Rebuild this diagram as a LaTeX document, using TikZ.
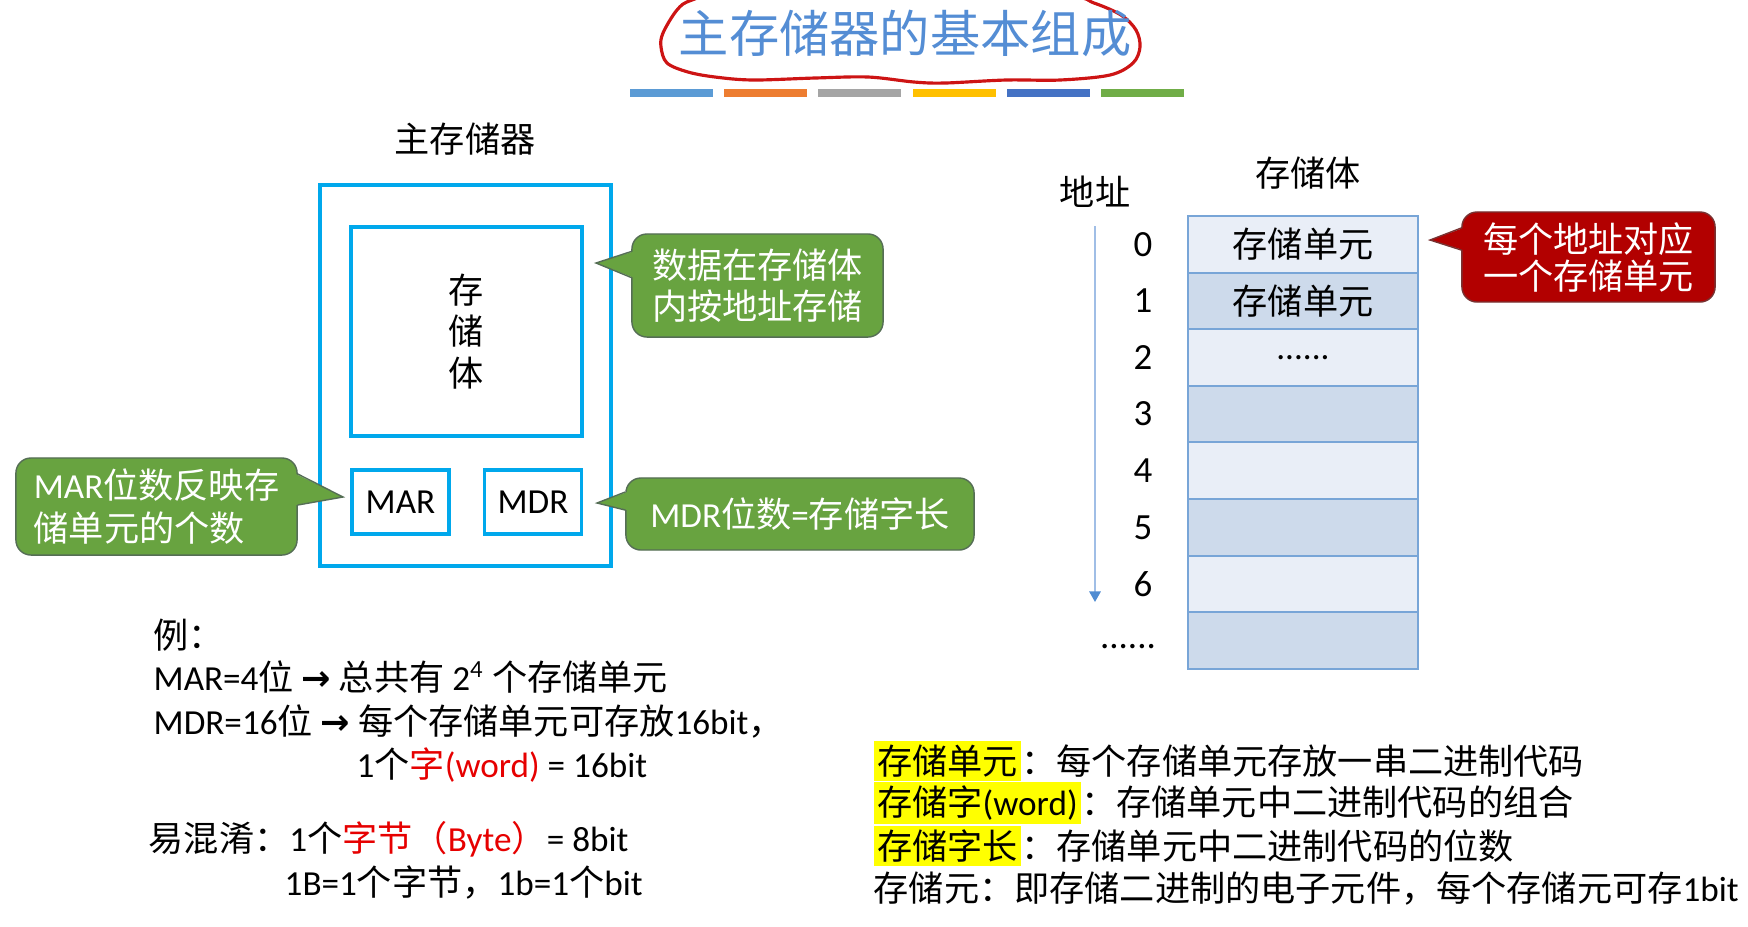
\documentclass[tikz,border=0pt]{standalone}
\usepackage{fontspec}
\setmainfont{Noto Sans CJK SC}
\newfontfamily\en{Carlito}
\newfontfamily\sym{DejaVu Sans}
\usetikzlibrary{arrows.meta,calc}

\definecolor{titleblue}{RGB}{84,141,212}
\definecolor{loopred}{RGB}{205,20,20}
\definecolor{boxblue}{RGB}{0,168,236}
\definecolor{calgreen}{RGB}{104,163,64}
\definecolor{noteline}{RGB}{85,110,85}
\definecolor{calred}{RGB}{178,0,0}
\definecolor{rednoteline}{RGB}{120,50,50}
\definecolor{celllight}{RGB}{233,238,247}
\definecolor{celldark}{RGB}{205,218,235}
\definecolor{cellline}{RGB}{120,165,215}
\definecolor{addrline}{RGB}{160,190,230}
\definecolor{addrtip}{RGB}{80,140,210}
\definecolor{hlyellow}{RGB}{255,255,0}
\definecolor{wordred}{RGB}{230,0,0}
\definecolor{barblue}{RGB}{91,155,213}
\definecolor{barorange}{RGB}{237,125,49}
\definecolor{bargray}{RGB}{165,165,165}
\definecolor{baryellow}{RGB}{255,192,0}
\definecolor{bardarkblue}{RGB}{68,114,196}
\definecolor{bargreen}{RGB}{112,173,71}

\newcommand{\hl}[1]{{\setlength{\fboxsep}{1pt}\colorbox{hlyellow}{#1}}}

\begin{document}
\begin{tikzpicture}[x=0.01cm, y=-0.01cm,
    font=\fontsize{10}{12}\selectfont,
    membox/.style={draw=boxblue, line width=1.1pt, inner sep=0pt},
    regbox/.style={membox, minimum width=0.97cm, minimum height=0.64cm, font=\en\fontsize{10}{12}\selectfont},
    note/.style={draw=noteline, line width=0.4pt, rounded corners=0.15cm, text=white, align=center, inner sep=0pt, font=\fontsize{10}{11.5}\selectfont},
    greennote/.style={note, fill=calgreen},
    rednote/.style={note, fill=calred, draw=rednoteline},
    cell/.style={draw=cellline, line width=0.6pt, minimum width=2.3cm, minimum height=0.566cm, inner sep=0pt},
    txt/.style={anchor=west, inner sep=0pt}]
  \useasboundingbox (0,0) rectangle (1748,926);

  % title with the hand drawn loop and the colour bars
  \draw[loopred, line width=0.9pt] plot[smooth cycle, tension=0.55] coordinates {(692,0) (677,10) (663,33) (661,47) (667,63) (688,72) (715,77) (753,80) (815,78) (868,77) (914,82) (945,83) (1006,80) (1060,80) (1110,75) (1133,63) (1140,47) (1136,30) (1121,15) (1094,3) (1064,-5) (900,-22) (740,-12)};
  \node[text=titleblue, font=\fontsize{14.3}{16}\selectfont] (title) at (905,33) {主存储器的基本组成};
  \foreach \c [count=\i from 0] in {barblue,barorange,bargray,baryellow,bardarkblue,bargreen}
    \fill[\c] ({630+\i*94.2},89) rectangle +(83,8);

  % main memory
  \node (memlabel) at (465,139) {主存储器};
  \node[membox, minimum width=2.91cm, minimum height=3.81cm] (mainmem) at (465.5,375.5) {};
  \node[membox, minimum width=2.31cm, minimum height=2.09cm, align=center, font=\fontsize{10}{11.9}\selectfont] (bank) at (466.5,331.5) {存\\储\\体};
  \node[regbox] (mar) at (400.5,502) {MAR};
  \node[regbox] (mdr) at (533,502) {MDR};

  % green notes
  \node[greennote, minimum width=2.51cm, minimum height=1.03cm] (notedata) at (757.5,285.5) {数据在存储体\\内按地址存储};
  \coordinate (tipdata) at (596,263);
  \fill[calgreen] ($(notedata.west)+(2,-34)$) -- (tipdata) -- ($(notedata.west)+(2,-8)$) -- cycle;
  \draw[noteline, line width=0.4pt] ($(notedata.west)+(0,-34)$) -- (tipdata) -- ($(notedata.west)+(0,-8)$);

  \node[greennote, minimum width=3.48cm, minimum height=0.72cm] (notemdr) at (800,514) {{\en MDR}位数{\en =}存储字长};
  \coordinate (tipmdr) at (597,503);
  \fill[calgreen] ($(notemdr.west)+(2,-22)$) -- (tipmdr) -- ($(notemdr.west)+(2,-4)$) -- cycle;
  \draw[noteline, line width=0.4pt] ($(notemdr.west)+(0,-22)$) -- (tipmdr) -- ($(notemdr.west)+(0,-4)$);

  \node[greennote, minimum width=2.81cm, minimum height=0.97cm, align=left, font=\fontsize{10}{12}\selectfont] (notemar) at (156.5,506.5) {{\en MAR}位数反映存\\储单元的个数};
  \coordinate (tipmar) at (343,497);
  \fill[calgreen] ($(notemar.east)+(-2,-32.5)$) -- (tipmar) -- ($(notemar.east)+(-2,-1.5)$) -- cycle;
  \draw[noteline, line width=0.4pt] ($(notemar.east)+(0,-32.5)$) -- (tipmar) -- ($(notemar.east)+(0,-1.5)$);

  % memory bank with addresses
  \node (banklabel) at (1308,173) {存储体};
  \node (addrlabel) at (1095,192) {地址};
  \foreach \r/\c/\t in {0/celllight/存储单元, 1/celldark/存储单元, 2/celllight/{\en ......}, 3/celldark/{}, 4/celllight/{}, 5/celldark/{}, 6/celllight/{}, 7/celldark/{}}
    \node[cell, fill=\c] (cell\r) at (1303,{244.3+\r*56.6}) {\t};
  \foreach \r in {0,...,6}
    \node[font=\en\fontsize{10.5}{12}\selectfont] (num\r) at (1143,{244.3+\r*56.6}) {\r};
  \node[font=\en\fontsize{10.5}{12}\selectfont] (numdots) at (1128,647) {......};
  \coordinate (addrtop) at (1095,226);
  \coordinate (addrend) at (1095,602);
  \draw[addrline, line width=0.6pt, -{Triangle[length=3pt, width=3.2pt, color=addrtip]}] (addrtop) -- (addrend);

  % red note
  \node[rednote, minimum width=2.53cm, minimum height=0.90cm, font=\fontsize{10}{10.5}\selectfont] (noteaddr) at (1588.5,257) {每个地址对应\\一个存储单元};
  \coordinate (tipaddr) at (1430,240);
  \fill[calred] ($(noteaddr.west)+(2,-29)$) -- (tipaddr) -- ($(noteaddr.west)+(2,-7)$) -- cycle;
  \draw[rednoteline, line width=0.4pt] ($(noteaddr.west)+(0,-29)$) -- (tipaddr) -- ($(noteaddr.west)+(0,-7)$);

  % example
  \node[txt] (ex0) at (153,635) {例：};
  \node[txt] (ex1) at (153,677) {{\en MAR=4}位 {\sym\bfseries →} 总共有 {\en 2\textsuperscript{4}} 个存储单元};
  \node[txt] (ex2) at (153,721) {{\en MDR=16}位 {\sym\bfseries →} 每个存储单元可存放{\en 16bit}，};
  \node[txt] (ex3) at (356,765) {{\en 1}个\textcolor{wordred}{字{\en (word)}}{\en ~= 16bit}};
  \node[txt] (mix1) at (148,839) {易混淆：{\en 1}个\textcolor{wordred}{字节（{\en Byte}）}{\en = 8bit}};
  \node[txt] (mix2) at (284,882) {{\en 1B=1}个字节，{\en 1b=1}个{\en bit}};

  % definitions
  \node[txt] (def1) at (873,761) {\hl{存储单元}：每个存储单元存放一串二进制代码};
  \node[txt] (def2) at (873,803) {\hl{存储字{\en (word)}}：存储单元中二进制代码的组合};
  \node[txt] (def3) at (873,846) {\hl{存储字长}：存储单元中二进制代码的位数};
  \node[txt] (def4) at (873,888) {存储元：即存储二进制的电子元件，每个存储元可存{\en 1bit}};
\end{tikzpicture}
\end{document}
